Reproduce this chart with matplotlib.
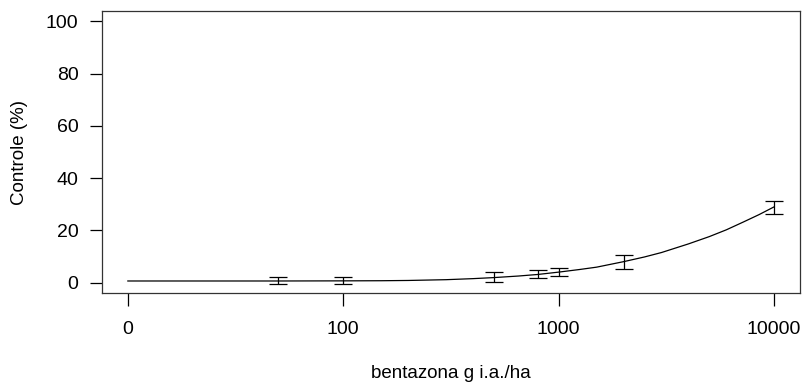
import matplotlib
matplotlib.use("Agg")
import matplotlib.pyplot as plt

# observed data (means with error bars)
doses = [50, 100, 500, 800, 1000, 2000, 10000]
means = [0.8, 0.8, 2.1, 3.3, 4.0, 7.8, 28.7]
errs = [1.3, 1.2, 1.85, 1.7, 1.5, 2.6, 2.4]

# fitted curve (dose 0 drawn at 10)
curve_dose = [10, 30, 50, 100, 150, 200, 300, 400, 500, 650, 800, 1000,
              1250, 1500, 2000, 2500, 3000, 4000, 5000, 6000, 7200, 8500, 10000]
curve_resp = [0.6, 0.6, 0.6, 0.65, 0.7, 0.8, 1.1, 1.5, 1.9, 2.5, 3.1, 4.0,
              5.0, 5.9, 8.0, 9.8, 11.5, 14.8, 17.6, 20.2, 23.2, 26.0, 29.0]

xtick_pos = [10, 100, 1000, 10000]
xtick_labels = ["0", "100", "1000", "10000"]
ytick_pos = [0, 20, 40, 60, 80, 100]

plt.rcParams['font.family'] = ['Liberation Sans', 'DejaVu Sans']

fig = plt.figure(figsize=(8.08, 3.86), dpi=100)
ax = fig.add_axes([102/808, 1 - 293/386, (800 - 102)/808, (293 - 11)/386])

ax.plot(curve_dose, curve_resp, color="black", lw=0.9)
ax.errorbar(doses, means, yerr=errs, fmt="none", ecolor="black",
            elinewidth=0.9, capsize=6.8, capthick=0.9)

ax.set_xscale("log")
ax.set_xlim(10**0.88, 10**4.12)
ax.set_ylim(-4, 104)
ax.minorticks_off()
ax.set_xticks(xtick_pos)
ax.set_xticklabels(xtick_labels)
ax.set_yticks(ytick_pos)
ax.set_yticklabels([str(v) for v in ytick_pos])

ax.tick_params(axis="both", which="major", length=9, width=0.9,
               labelsize=14, colors="black")
ax.tick_params(axis="y", pad=8)
ax.tick_params(axis="x", pad=11)
for s in ax.spines.values():
    s.set_linewidth(0.9)
    s.set_color("#333333")

fig.text(20/808, 1 - 152/386, "Controle (%)", fontsize=13.5, rotation=90,
         ha="center", va="center")
fig.text(451/808, 1 - 374/386, "bentazona g i.a./ha", fontsize=13.5,
         ha="center", va="center")

fig.savefig("out.png", dpi=100)
